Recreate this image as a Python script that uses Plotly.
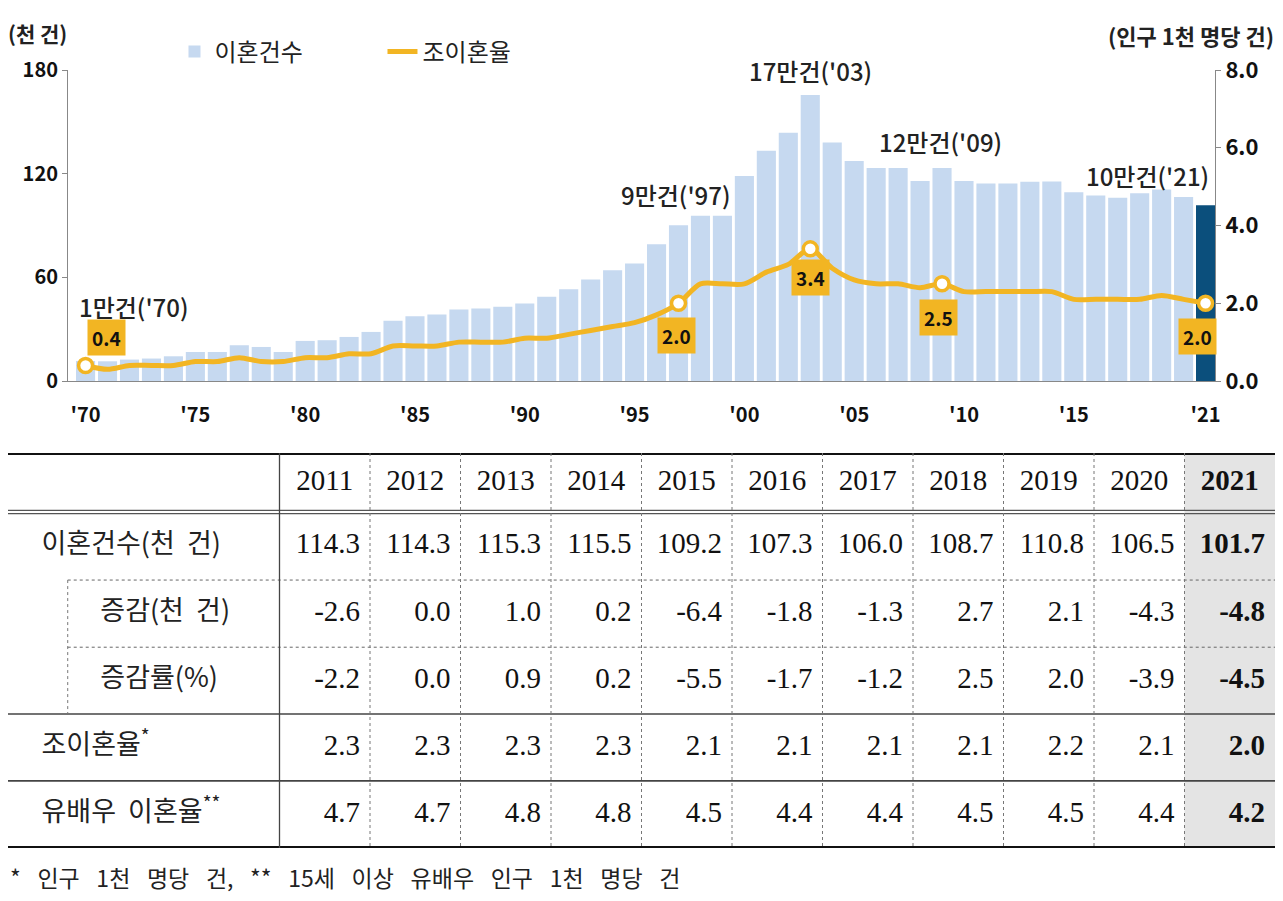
import plotly.graph_objects as go

# ---- chart data (천 건, 인구 1천 명당 건) ----
years = list(range(1970, 2022))
divorces = [11.6, 11.4, 12.4, 13.0, 14.3, 16.8, 16.8, 20.7, 19.7, 16.8,
            23.2, 23.6, 25.5, 28.4, 34.8, 37.5, 38.5, 41.4, 42.0, 43.0,
            44.8, 48.7, 53.1, 58.7, 64.1, 68.0, 79.2, 90.2, 95.6, 95.6,
            118.6, 133.3, 143.7, 165.5, 138.1, 127.3, 123.3, 123.3, 115.7, 123.3,
            115.7, 114.3, 114.3, 115.3, 115.5, 109.2, 107.3, 106.0, 108.7, 110.8,
            106.5, 101.7]
rates = [0.4, 0.3, 0.4, 0.4, 0.4, 0.5, 0.5, 0.6, 0.5, 0.5,
         0.6, 0.6, 0.7, 0.7, 0.9, 0.9, 0.9, 1.0, 1.0, 1.0,
         1.1, 1.1, 1.2, 1.3, 1.4, 1.5, 1.7, 2.0, 2.5, 2.5,
         2.5, 2.8, 3.0, 3.4, 2.9, 2.6, 2.5, 2.5, 2.4, 2.5,
         2.3, 2.3, 2.3, 2.3, 2.3, 2.1, 2.1, 2.1, 2.1, 2.2,
         2.1, 2.0]

hl_years = [1970, 1997, 2003, 2009, 2021]
hl_count_text = ["1만건('70)", "9만건('97)", "17만건('03)", "12만건('09)", "10만건('21)"]

x_tickvals = [1970, 1975, 1980, 1985, 1990, 1995, 2000, 2005, 2010, 2015, 2021]
x_ticktext = ["'70", "'75", "'80", "'85", "'90", "'95", "'00", "'05", "'10", "'15", "'21"]

# ---- table data ----
tbl_years = [2011, 2012, 2013, 2014, 2015, 2016, 2017, 2018, 2019, 2020, 2021]
tbl_count = [114.3, 114.3, 115.3, 115.5, 109.2, 107.3, 106.0, 108.7, 110.8, 106.5, 101.7]
tbl_change = [-2.6, 0.0, 1.0, 0.2, -6.4, -1.8, -1.3, 2.7, 2.1, -4.3, -4.8]
tbl_change_pct = [-2.2, 0.0, 0.9, 0.2, -5.5, -1.7, -1.2, 2.5, 2.0, -3.9, -4.5]
tbl_crude = [2.3, 2.3, 2.3, 2.3, 2.1, 2.1, 2.1, 2.1, 2.2, 2.1, 2.0]
tbl_married = [4.7, 4.7, 4.8, 4.8, 4.5, 4.4, 4.4, 4.5, 4.5, 4.4, 4.2]
row_labels = ["이혼건수(천\u00a0\u00a0건)", "증감(천\u00a0\u00a0건)", "증감률(%)", "조이혼율<sup>*</sup>",
              "유배우\u00a0\u00a0이혼율<sup>**</sup>"]
row_indent = [False, True, True, False, False]

footnote = "* 인구 1천 명당 건, ** 15세 이상 유배우 인구 1천 명당 건"

LIGHT = "#c6d9f0"
NAVY = "#0b4f7c"
GOLD = "#f2b523"
KR = "Noto Sans CJK KR"
SERIF = "Liberation Serif"

fig = go.Figure()

bar_colors = [NAVY if y == years[-1] else LIGHT for y in years]
fig.add_trace(go.Bar(x=years, y=divorces, name="이혼건수", marker=dict(color=bar_colors, line_width=0),
                     width=0.87, xaxis="x", yaxis="y"))
fig.add_trace(go.Scatter(x=years, y=rates, name="조이혼율", mode="lines",
                         line=dict(color=GOLD, width=5, shape="spline", smoothing=0.8),
                         xaxis="x", yaxis="y2"))
hl_rates = [rates[years.index(y)] for y in hl_years]
hl_counts = [divorces[years.index(y)] for y in hl_years]
fig.add_trace(go.Scatter(x=hl_years, y=hl_rates, mode="markers", showlegend=False,
                         marker=dict(size=14, color="white", line=dict(color=GOLD, width=3.5)),
                         xaxis="x", yaxis="y2"))

annotations = []
# count labels above bars (xanchor, xshift, yshift)
count_pos = [("left", -9, 54), ("center", -3, 31), ("center", 0, 25), ("center", -2, 26), ("right", 5, 30)]
for yr, cnt, txt, (anc, dx, dy) in zip(hl_years, hl_counts, hl_count_text, count_pos):
    annotations.append(dict(x=yr, y=cnt, xref="x", yref="y", text=txt, showarrow=False,
                            xanchor=anc, yanchor="middle", xshift=dx, yshift=dy,
                            font=dict(family=KR, size=24, color="#222", weight=500)))
# rate boxes near markers
rate_pos = [(21, 28), (-2, -32), (0, -29), (-4, -34), (-8, -33)]
for yr, r, (dx, dy) in zip(hl_years, hl_rates, rate_pos):
    annotations.append(dict(x=yr, y=r, xref="x", yref="y2", text=f"{r:.1f}", showarrow=False,
                            xshift=dx, yshift=dy, bgcolor=GOLD, borderpad=4,
                            font=dict(family=KR, size=19, color="#111", weight="bold")))

annotations.append(dict(x=6 / 1283, y=1 - 33 / 901, xref="paper", yref="paper", text="(천 건)",
                        showarrow=False, xanchor="left", yanchor="middle",
                        font=dict(family=KR, size=21, color="#222", weight="bold")))
annotations.append(dict(x=1276 / 1283, y=1 - 35 / 901, xref="paper", yref="paper", text="(인구 1천 명당 건)",
                        showarrow=False, xanchor="right", yanchor="middle",
                        font=dict(family=KR, size=22, color="#222", weight="bold")))

# ---- table (drawn on its own axes: columns = units, rows = units) ----
ncol = len(tbl_years)
label_w = 3
row_edges = [0, 0.896, 1.93, 2.95, 3.965, 4.98, 6.0]
row_mid = [(a + b) / 2 for a, b in zip(row_edges[:-1], row_edges[1:])]
col_right = [label_w + i + 1 for i in range(ncol)]
col_mid = [label_w + i + 0.5 for i in range(ncol)]
pad = 0.11

shapes = []
last = ncol - 1
shapes.append(dict(type="rect", xref="x2", yref="y3", x0=label_w + last, x1=label_w + ncol, y0=0, y1=6,
                   fillcolor="#e4e4e4", line_width=0, layer="below"))

fig.add_trace(go.Scatter(x=col_mid[:last], y=[row_mid[0]] * last, mode="text",
                         text=[str(y) for y in tbl_years[:last]], textposition="middle center",
                         textfont=dict(family=SERIF, size=29, color="#111"),
                         showlegend=False, hoverinfo="skip", xaxis="x2", yaxis="y3"))
fig.add_trace(go.Scatter(x=[col_mid[last]], y=[row_mid[0]], mode="text",
                         text=[f"<b>{tbl_years[last]}</b>"], textposition="middle center",
                         textfont=dict(family=SERIF, size=29, color="#111"),
                         showlegend=False, hoverinfo="skip", xaxis="x2", yaxis="y3"))

rows = [tbl_count, tbl_change, tbl_change_pct, tbl_crude, tbl_married]
for r, vals in enumerate(rows):
    txt = [f"{v:.1f}" for v in vals]
    txt[last] = f"<b>{txt[last]}</b>"
    fig.add_trace(go.Scatter(x=[c - pad for c in col_right], y=[row_mid[r + 1]] * ncol, mode="text",
                             text=txt, textposition="middle left",
                             textfont=dict(family=SERIF, size=29, color="#111"),
                             showlegend=False, hoverinfo="skip", xaxis="x2", yaxis="y3"))

fig.add_trace(go.Scatter(x=[1.02 if ind else 0.37 for ind in row_indent], y=row_mid[1:], mode="text",
                         text=row_labels, textposition="middle right",
                         textfont=dict(family=KR, size=27, color="#222"),
                         showlegend=False, hoverinfo="skip", xaxis="x2", yaxis="y3"))

tot = label_w + ncol
# horizontal rules
shapes.append(dict(type="line", xref="x2", yref="y3", x0=0, x1=tot, y0=0, y1=0, line=dict(color="#111", width=4)))
shapes.append(dict(type="line", xref="x2", yref="y3", x0=0, x1=tot, y0=6, y1=6, line=dict(color="#111", width=4)))
for off in (-0.025, 0.025):
    shapes.append(dict(type="line", xref="x2", yref="y3", x0=0, x1=tot, y0=row_edges[1] + off, y1=row_edges[1] + off,
                       line=dict(color="#555", width=1.3)))
for ye in row_edges[2:4]:
    shapes.append(dict(type="line", xref="x2", yref="y3", x0=0.66, x1=tot, y0=ye, y1=ye,
                       line=dict(color="#666", width=1, dash="dot")))
for ye in row_edges[4:6]:
    shapes.append(dict(type="line", xref="x2", yref="y3", x0=0, x1=tot, y0=ye, y1=ye,
                       line=dict(color="#444", width=1.6)))
# vertical rules
shapes.append(dict(type="line", xref="x2", yref="y3", x0=label_w, x1=label_w, y0=0, y1=6,
                   line=dict(color="#444", width=1.3)))
for c in col_right[:-1]:
    shapes.append(dict(type="line", xref="x2", yref="y3", x0=c, x1=c, y0=0, y1=6,
                       line=dict(color="#777", width=1, dash="dot")))
shapes.append(dict(type="line", xref="x2", yref="y3", x0=0.66, x1=0.66, y0=row_edges[2], y1=row_edges[4],
                   line=dict(color="#777", width=1, dash="dot")))

annotations.append(dict(x=8 / 1283, y=1 - 877 / 901, xref="paper", yref="paper",
                        text=footnote.replace(" ", "\u2002\u00a0"), showarrow=False,
                        xanchor="left", yanchor="middle", font=dict(family=KR, size=23, color="#222")))

axis_style = dict(showline=True, linecolor="#888", linewidth=1, showgrid=False, zeroline=False,
                  ticks="outside", ticklen=5, tickcolor="#888")

fig.update_layout(
    width=1283, height=901,
    margin=dict(l=0, r=0, t=0, b=0, autoexpand=False),
    paper_bgcolor="white", plot_bgcolor="white",
    font=dict(family=KR, color="#222"),
    bargap=0.13,
    xaxis=dict(domain=[68 / 1283, 1215 / 1283], range=[1969.2, 2021.43], tickvals=x_tickvals,
               ticktext=x_ticktext, showline=True, linecolor="#888", showgrid=False, zeroline=False,
               ticks="outside", ticklen=16, tickcolor="rgba(0,0,0,0)",
               tickfont=dict(family=KR, size=20, color="#111", weight="bold"), anchor="y"),
    yaxis=dict(domain=[1 - 381 / 901, 1 - 70 / 901], range=[0, 180], tickvals=[0, 60, 120, 180],
               anchor="x", tickfont=dict(family=KR, size=20, color="#111", weight="bold"), **axis_style),
    yaxis2=dict(overlaying="y", side="right", range=[0, 8], tickvals=[0, 2, 4, 6, 8], tickformat=".1f",
                anchor="x", tickfont=dict(family=KR, size=22, color="#111", weight="bold"), **axis_style),
    xaxis2=dict(domain=[8 / 1283, 1275 / 1283], range=[0, tot], visible=False, anchor="y3"),
    yaxis3=dict(domain=[1 - 848 / 901, 1 - 453 / 901], range=[6, 0], visible=False, anchor="x2"),
    legend=dict(orientation="h", x=0.136, y=1 - 52 / 901, xanchor="left", yanchor="middle",
                font=dict(family=KR, size=24, color="#222"), entrywidth=163, entrywidthmode="pixels",
                bgcolor="rgba(0,0,0,0)"),
    shapes=shapes,
    annotations=annotations,
)

fig.write_html("out.html", config={"displayModeBar": False, "responsive": False},
               post_script="document.body.style.margin='0px';")
